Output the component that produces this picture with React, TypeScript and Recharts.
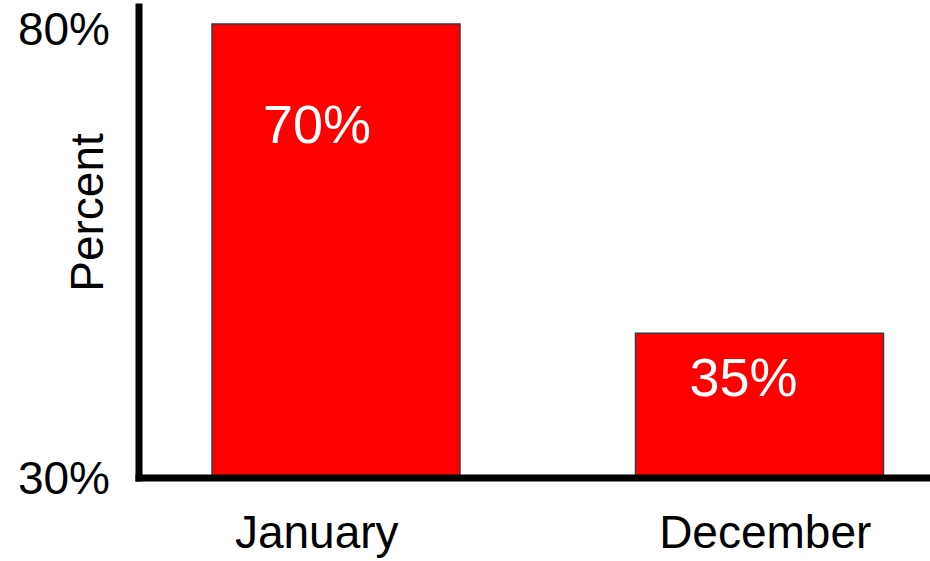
import { Bar, BarChart, LabelList, XAxis, YAxis, Label } from "recharts";

const months = ["January", "December"];
// bar tops as they sit on the drawn 30%–80% axis
const barHeights = [80.5, 46.1];
// text printed inside the bars
const barLabels = ["70%", "35%"];
const yTicks = [30, 80];

const data = months.map((m, i) => ({ month: m, value: barHeights[i], label: barLabels[i] }));

const FONT = "'Liberation Sans', Arial, sans-serif";

// small hand nudges so text lands where the original put it
const monthNudge = [-19, 6];
const labelNudge = [
  { dx: -19, dy: 100 },
  { dx: -16, dy: 44 },
];

function MonthTick(props: any) {
  const { x, y, payload, index } = props;
  return (
    <text
      x={x + (monthNudge[index] ?? 0)}
      y={y}
      dy="0.71em"
      textAnchor="middle"
      fontFamily={FONT}
      fontSize={46}
      fill="#000"
    >
      {payload.value}
    </text>
  );
}

function BarText(props: any) {
  const { x, y, width, index, value } = props;
  const n = labelNudge[index] ?? { dx: 0, dy: 0 };
  return (
    <text
      x={x + width / 2 + n.dx}
      y={y + n.dy}
      textAnchor="middle"
      dominantBaseline="central"
      fontFamily={FONT}
      fontSize={54}
      fill="#fff"
    >
      {value}
    </text>
  );
}

function AxisTitle(props: any) {
  const { viewBox } = props;
  const cx = viewBox.x + 86.5;
  const cy = viewBox.y + viewBox.height / 2 - 30;
  return (
    <text
      x={cx}
      y={cy}
      transform={`rotate(-90, ${cx}, ${cy})`}
      textAnchor="middle"
      dominantBaseline="central"
      fontFamily={FONT}
      fontSize={46}
      fill="#000"
    >
      Percent
    </text>
  );
}

export default function App() {
  return (
    <div style={{ position: "absolute", left: 0, top: 0, width: 930, height: 561, overflow: "hidden", background: "#fff" }}>
      <BarChart width={930} height={561} data={data} margin={{ top: 7, right: 0, bottom: 0, left: 0 }}>
        <XAxis
          dataKey="month"
          height={83}
          padding={{ left: -15, right: -41 }}
          axisLine={{ stroke: "#000", strokeWidth: 7, strokeLinecap: "square" }}
          tickLine={false}
          tickSize={0}
          tickMargin={37}
          tick={<MonthTick />}
        />
        <YAxis
          width={139}
          domain={[30, 82.4]}
          ticks={yTicks}
          tickFormatter={(v) => `${v}%`}
          axisLine={{ stroke: "#000", strokeWidth: 7, strokeLinecap: "square" }}
          tickLine={false}
          tickSize={0}
          tickMargin={29}
          tick={{ fontSize: 46, fill: "#000", fontFamily: FONT }}
          allowDataOverflow
        >
          <Label content={<AxisTitle />} />
        </YAxis>
        <Bar dataKey="value" fill="#ff0000" stroke="#3a3a3a" strokeWidth={1.5} barSize={248} isAnimationActive={false}>
          <LabelList dataKey="label" content={<BarText />} />
        </Bar>
      </BarChart>
    </div>
  );
}
